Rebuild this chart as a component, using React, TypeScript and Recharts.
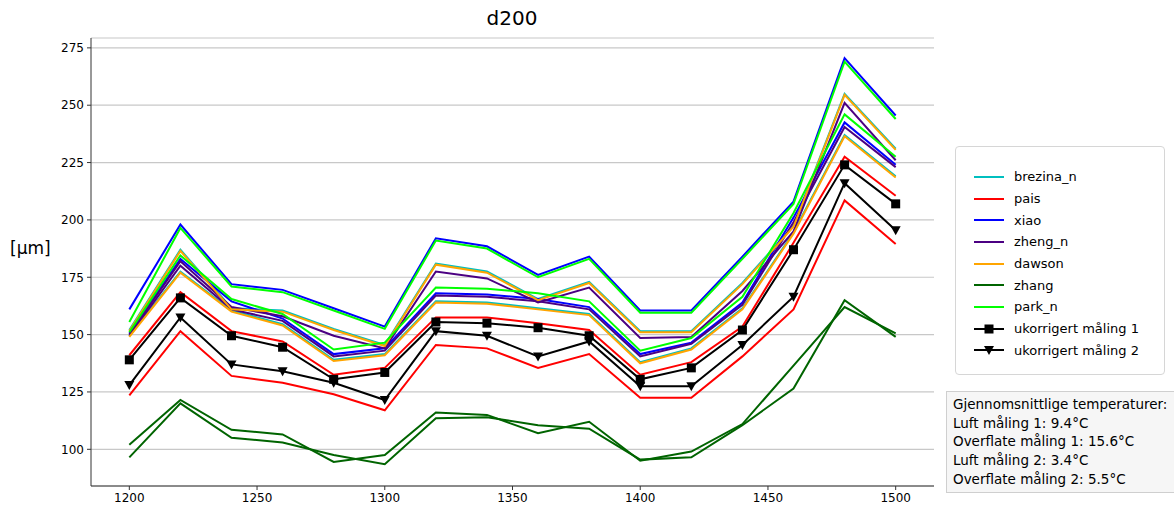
import React from 'react';
import { LineChart, Line, XAxis, YAxis, CartesianGrid } from 'recharts';

// Probe positions along the sample (µm readings at each position)
const positions = [1200, 1220, 1240, 1260, 1280, 1300, 1320, 1340, 1360, 1380, 1400, 1420, 1440, 1460, 1480, 1500];

// Corrected values per model, measurement 1 and 2
const brezina1 = [152, 187, 161.5, 160.5, 152.5, 145.5, 181, 177.5, 165.5, 173, 151.5, 151.5, 172.5, 197.5, 255, 231];
const brezina2 = [149.5, 177.5, 160.5, 154.5, 139, 141.5, 164.5, 164, 161.5, 159, 138, 144, 161.5, 194.5, 237, 219];
const pais1 = [141, 168.5, 151.5, 147, 132.5, 135.5, 157.5, 157.5, 155, 152, 132.5, 138, 153.5, 190, 227.5, 210.5];
const pais2 = [123.5, 151.5, 132, 129, 124, 117, 145.5, 144, 135.5, 141.5, 122.5, 122.5, 140.5, 161, 208.5, 189.5];
const xiao1 = [161, 198, 172, 169.5, 161.5, 153.5, 192, 188.5, 176, 184, 160.5, 160.5, 184, 208, 270.5, 245.5];
const xiao2 = [150.5, 183, 164.5, 157, 141.5, 144, 168, 167.5, 165.5, 162, 141.5, 146.5, 164, 201, 242.5, 224];
const zheng1 = [150, 182, 162, 158, 149.5, 144, 177.5, 174.5, 164, 170.5, 148.5, 149, 169, 195, 251, 226];
const zheng2 = [149.5, 180, 161, 156, 140.5, 143, 167, 166.5, 164.5, 161, 140.5, 146, 163, 199, 240.5, 223];
const dawson1 = [151.5, 186.5, 161, 160, 152, 145, 180.5, 177, 165, 172.5, 151, 151, 172, 197, 254.5, 230.5];
const dawson2 = [149, 177, 160, 154, 138.5, 141, 164, 163.5, 161, 158.5, 137.5, 143.5, 161, 194, 236.5, 218.5];
const zhang1 = [102, 121.5, 108.5, 106.5, 94.5, 97.5, 116, 115, 107, 112, 95, 99, 111, 136.5, 162, 150.5];
const zhang2 = [96.5, 120, 105, 103, 97.5, 93.5, 113.5, 114, 110.5, 109, 95.5, 96.5, 110.5, 126.5, 165, 149];
const park1 = [155.5, 196.5, 171, 168.5, 160.5, 152.5, 191, 187.5, 175, 183, 159.5, 159.5, 183, 207, 269, 244];
const park2 = [151, 184.5, 165.5, 159, 143.5, 146.5, 170.5, 170, 168, 164.5, 143, 148.5, 166.5, 203, 246, 227.5];

// Uncorrected measurements
const raw1 = [139, 166, 149.5, 144.5, 130.5, 133.5, 155.5, 155, 153, 149.5, 130.5, 135.5, 152, 187, 224, 207];
const raw2 = [128, 157.5, 137, 134, 129, 121.5, 151.5, 149.5, 140.5, 147, 127.5, 127.5, 145.5, 166.5, 216, 195.5];

const xTicks = [1200, 1250, 1300, 1350, 1400, 1450, 1500];
const yTicks = [100, 125, 150, 175, 200, 225, 250, 275];

const tempLines = [
  'Gjennomsnittlige temperaturer:',
  'Luft måling 1: 9.4°C',
  'Overflate måling 1: 15.6°C',
  'Luft måling 2: 3.4°C',
  'Overflate måling 2: 5.5°C',
];

type Series = { key: string; values: number[]; color: string; label?: string; marker?: 'square' | 'tri' };

const series: Series[] = [
  { key: 'brezina1', values: brezina1, color: '#00BFBF', label: 'brezina_n' },
  { key: 'brezina2', values: brezina2, color: '#00BFBF' },
  { key: 'pais1', values: pais1, color: '#FF0000', label: 'pais' },
  { key: 'pais2', values: pais2, color: '#FF0000' },
  { key: 'xiao1', values: xiao1, color: '#0000FF', label: 'xiao' },
  { key: 'xiao2', values: xiao2, color: '#0000FF' },
  { key: 'zheng1', values: zheng1, color: '#4B0082', label: 'zheng_n' },
  { key: 'zheng2', values: zheng2, color: '#4B0082' },
  { key: 'dawson1', values: dawson1, color: '#FFA500', label: 'dawson' },
  { key: 'dawson2', values: dawson2, color: '#FFA500' },
  { key: 'zhang1', values: zhang1, color: '#006400', label: 'zhang' },
  { key: 'zhang2', values: zhang2, color: '#006400' },
  { key: 'park1', values: park1, color: '#00FF00', label: 'park_n' },
  { key: 'park2', values: park2, color: '#00FF00' },
  { key: 'raw1', values: raw1, color: '#000000', label: 'ukorrigert måling 1', marker: 'square' },
  { key: 'raw2', values: raw2, color: '#000000', label: 'ukorrigert måling 2', marker: 'tri' },
];

const rows = positions.map((x, i) => {
  const row: Record<string, number> = { x };
  series.forEach((s) => {
    row[s.key] = s.values[i];
  });
  return row;
});

const FONT = '"DejaVu Sans", sans-serif';

const squareDot = (p: any) => (
  <rect key={`sq-${p.index}`} x={p.cx - 4.5} y={p.cy - 4.5} width={9} height={9} fill="#000" />
);
const triDot = (p: any) => (
  <polygon
    key={`tr-${p.index}`}
    points={`${p.cx - 5},${p.cy - 4} ${p.cx + 5},${p.cy - 4} ${p.cx},${p.cy + 5}`}
    fill="#000"
  />
);

const LegendMarker = ({ s }: { s: Series }) => (
  <svg width={32} height={12} style={{ display: 'block' }}>
    <line x1={1} y1={6} x2={31} y2={6} stroke={s.color} strokeWidth={2} />
    {s.marker === 'square' && <rect x={11.5} y={1.5} width={9} height={9} fill="#000" />}
    {s.marker === 'tri' && <polygon points="11,2 21,2 16,11" fill="#000" />}
  </svg>
);

export default function App() {
  const legendItems = series.filter((s) => s.label);
  return (
    <div style={{ position: 'absolute', left: 0, top: 0, width: 1174, height: 511, background: '#fff', fontFamily: FONT, overflow: 'hidden' }}>
      <div style={{ position: 'absolute', left: 412, width: 200, top: 6, textAlign: 'center', fontSize: 20, color: '#000' }}>d200</div>
      <div style={{ position: 'absolute', left: 10, top: 238, fontSize: 17, color: '#000' }}>[µm]</div>

      <LineChart width={1174} height={511} data={rows} margin={{ top: 38, right: 240, bottom: 0, left: 40 }}>
        <CartesianGrid vertical={false} stroke="#c8c8c8" strokeWidth={1.2} />
        <XAxis
          dataKey="x"
          type="number"
          domain={[1185, 1515]}
          ticks={xTicks}
          height={25}
          allowDataOverflow
          tickSize={4}
          tickMargin={3}
          axisLine={{ stroke: '#333' }}
          tickLine={{ stroke: '#333' }}
          tick={{ fill: '#000', fontSize: 12, fontFamily: FONT }}
        />
        <XAxis xAxisId="top" orientation="top" dataKey="x" type="number" domain={[1185, 1515]} height={0} tick={false} tickLine={false} axisLine={{ stroke: '#333' }} />
        <YAxis
          type="number"
          domain={[84, 279.3]}
          ticks={yTicks}
          width={51}
          allowDataOverflow
          tickSize={4}
          tickMargin={3}
          axisLine={{ stroke: '#333' }}
          tickLine={{ stroke: '#333' }}
          tick={{ fill: '#000', fontSize: 12, fontFamily: FONT }}
        />
        <YAxis yAxisId="right" orientation="right" type="number" domain={[84, 279.3]} width={0} tick={false} tickLine={false} axisLine={{ stroke: '#333' }} />
        {series.map((s) => (
          <Line
            key={s.key}
            dataKey={s.key}
            stroke={s.color}
            strokeWidth={2}
            type="linear"
            isAnimationActive={false}
            dot={s.marker === 'square' ? squareDot : s.marker === 'tri' ? triDot : false}
            activeDot={false}
          />
        ))}
      </LineChart>

      <div
        style={{
          position: 'absolute', left: 955, top: 146, width: 210, height: 229, boxSizing: 'border-box',
          border: '1px solid #d6d6d6', borderRadius: 4, background: '#fff', paddingTop: 19,
        }}
      >
        {legendItems.map((s) => (
          <div key={s.key} style={{ display: 'flex', alignItems: 'center', height: 21.7, paddingLeft: 17 }}>
            <LegendMarker s={s} />
            <span style={{ marginLeft: 9, fontSize: 13, color: '#000', whiteSpace: 'nowrap' }}>{s.label}</span>
          </div>
        ))}
      </div>

      <div
        style={{
          position: 'absolute', left: 946, top: 391, width: 240, height: 102, boxSizing: 'border-box',
          border: '1px solid #cfcfcf', background: '#f6f6f6', padding: '3px 0 0 6px',
        }}
      >
        {tempLines.map((t) => (
          <div key={t} style={{ fontSize: 13.5, lineHeight: '18.7px', color: '#000', whiteSpace: 'nowrap' }}>{t}</div>
        ))}
      </div>
    </div>
  );
}
